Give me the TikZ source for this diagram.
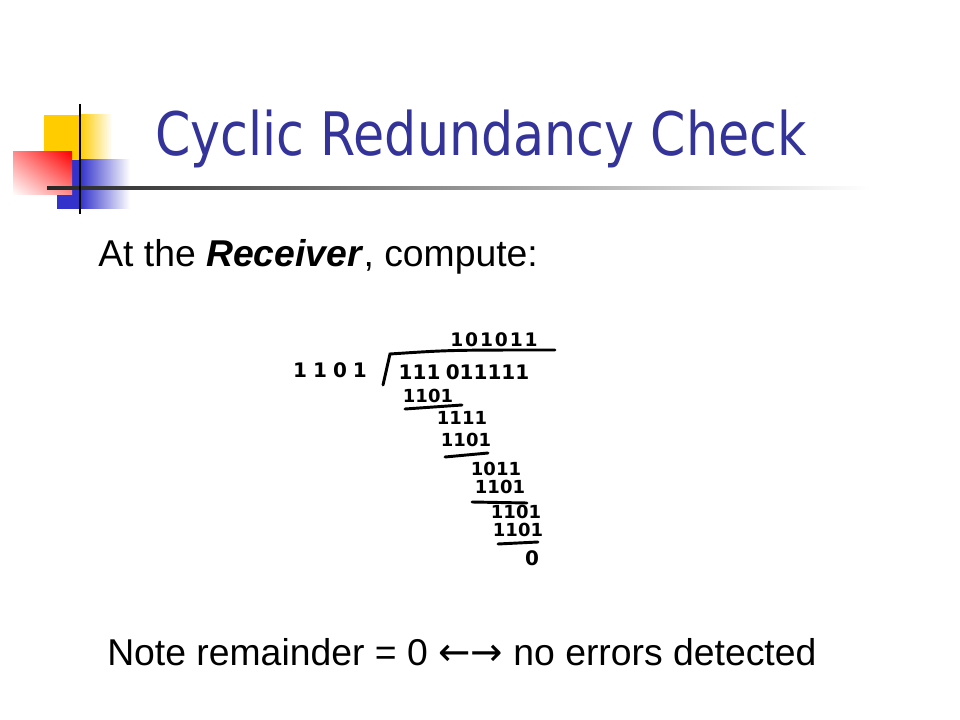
\documentclass[tikz,border=0pt]{standalone}
\usepackage{fontspec}
\setmainfont{Liberation Sans}
\newfontfamily\titlefont{DejaVu Sans}[FakeStretch=0.845]
\newfontfamily\arrowfont{DejaVu Sans}
\newfontfamily\handfont{DejaVu Sans}
\usetikzlibrary{positioning}
\usetikzlibrary{shadings}
\definecolor{titleblue}{RGB}{51,51,153}
\definecolor{logoyellow}{RGB}{255,204,0}
\definecolor{logoblue}{RGB}{51,51,204}
\tikzstyle{title}=[anchor=base west, inner sep=0, text=titleblue, font=\titlefont\fontsize{45}{54}\selectfont]
\tikzstyle{body}=[anchor=base west, inner sep=0, font=\fontsize{28}{34}\selectfont]
\tikzstyle{digits}=[inner sep=0, font=\handfont\bfseries\fontsize{13.5}{16}\selectfont]
\tikzstyle{stroke}=[line width=2.2pt, line cap=round]

\begin{document}
\begin{tikzpicture}[x=0.75pt, y=-0.75pt]
      \useasboundingbox[fill=white] (0,0) rectangle (960,720);

      % logo
      \fill[logoyellow] (44,115) rectangle (80,160);
      \shade[left color=logoyellow, right color=white] (80,115) rectangle (112,160);
      \fill[logoblue] (57,160) rectangle (80,209);
      \shade[left color=logoblue, right color=white] (80,160) rectangle (130,209);
      \shade[upper right=red, lower left=white, upper left=red!45!white, lower right=red!45!white] (13,152) rectangle (72,195);
      \shade[left color=black!85, right color=white] (47,186.5) rectangle (870,189.5);
      \draw[line width=2.2pt] (80,104) -- (80,214);

      \node[title] (heading) at (155,156) {Cyclic Redundancy Check};
      \node[body] (intro) at (98,267) {At the \textbf{\textit{Receiver}}, compute:};

      % long division
      \node[digits, font=\handfont\bfseries\fontsize{14}{17}\selectfont\addfontfeature{LetterSpace=10}] (quot) at (494,340) {101011};
      \node[digits, font=\handfont\bfseries\fontsize{15}{18}\selectfont\addfontfeature{LetterSpace=30}] (divisor) at (330,370) {1101};
      \node[digits, font=\handfont\bfseries\fontsize{15}{18}\selectfont] (dividend) at (464,372) {111\hspace{4pt}011111};
      \node[digits] (sub1) at (428,396) {1101};
      \node[digits] (rem1) at (462,418) {1111};
      \node[digits] (sub2) at (466,440) {1101};
      \node[digits] (rem2) at (496,469) {1011};
      \node[digits] (sub3) at (500,487) {1101};
      \node[digits] (rem3) at (516,512) {1101};
      \node[digits] (sub4) at (518,530) {1101};
      \node[digits, font=\handfont\bfseries\fontsize{15}{18}\selectfont] (rem4) at (532,558) {0};

      \coordinate (bar_left) at (390,354);
      \coordinate (bar_right) at (555,350);
      \coordinate (bar_foot) at (383,385);
      \draw[stroke] (bar_foot) -- (bar_left) .. controls (450,350) .. (bar_right);
      \draw[stroke] ([shift={(-23,13)}]sub1.center) -- ([shift={(34,9)}]sub1.center);
      \draw[stroke] ([shift={(-21,17)}]sub2.center) -- ([shift={(22,13)}]sub2.center);
      \draw[stroke] ([shift={(-28,15)}]sub3.center) -- ([shift={(27,16)}]sub3.center);
      \draw[stroke] ([shift={(-20,14)}]sub4.center) -- ([shift={(20,12)}]sub4.center);

      \node[body] (note) at (107,665) {Note remainder = 0 {\arrowfont\fontsize{29}{34}\selectfont←→} no errors detected};
    \end{tikzpicture}
\end{document}
